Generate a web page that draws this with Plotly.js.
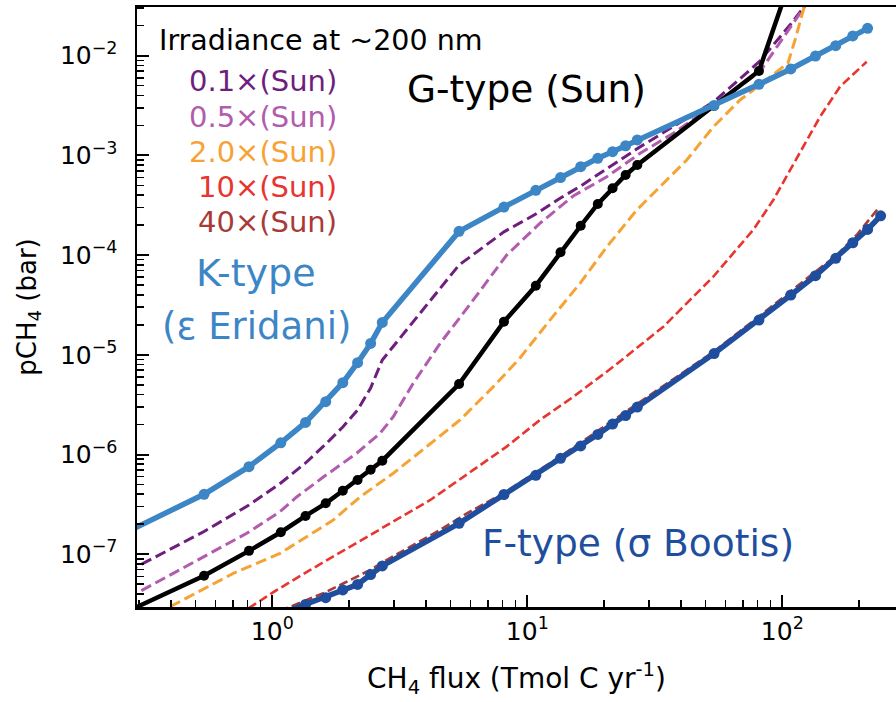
<!DOCTYPE html>
<html><head><meta charset="utf-8">
<script src="https://cdn.plot.ly/plotly-3.0.1.min.js"></script>
<style>html,body{margin:0;padding:0;background:#fff;overflow:hidden}</style>
</head><body><div id="chart" style="width:896px;height:702px"></div>
<script>
// CH4 flux (Tmol C / yr) and pCH4 (bar)
const kFlux = [0.27,0.54,0.81,1.08,1.35,1.62,1.89,2.16,2.43,2.7,5.4,8.1,10.8,13.5,16.2,18.9,21.6,24.3,27,54,81,108,135,162,189,216];
const kPch4 = [1.68e-7,3.99e-7,7.55e-7,1.31e-6,2.10e-6,3.39e-6,5.25e-6,8.33e-6,1.30e-5,2.11e-5,1.73e-4,3.03e-4,4.46e-4,6.00e-4,7.70e-4,9.35e-4,1.09e-3,1.25e-3,1.43e-3,3.17e-3,5.16e-3,7.36e-3,9.93e-3,1.26e-2,1.58e-2,1.88e-2];

const gFlux = [0.27,0.54,0.81,1.08,1.35,1.62,1.89,2.16,2.43,2.7,5.4,8.1,10.8,13.5,16.2,18.9,21.6,24.3,27,54,81,108];
const gPch4 = [2.67e-8,6.08e-8,1.08e-7,1.66e-7,2.42e-7,3.24e-7,4.33e-7,5.55e-7,7.04e-7,8.67e-7,5.09e-6,2.15e-5,4.93e-5,1.07e-4,1.97e-4,3.26e-4,4.68e-4,6.36e-4,8.01e-4,3.13e-3,7.03e-3,5.96e-2];

const fFlux = [1.08,1.35,1.62,1.89,2.16,2.43,2.7,5.4,8.1,10.8,13.5,16.2,18.9,21.6,24.3,27,54,81,108,135,162,189,216,243];
const fPch4 = [2.53e-8,3.13e-8,3.66e-8,4.38e-8,4.97e-8,6.25e-8,7.62e-8,2.04e-7,3.97e-7,6.18e-7,9.16e-7,1.22e-6,1.59e-6,2.02e-6,2.46e-6,2.99e-6,1.03e-5,2.23e-5,3.98e-5,6.21e-5,9.29e-5,1.33e-4,1.81e-4,2.48e-4];

const x01Flux = [0.27,0.54,0.81,1.08,1.35,1.62,1.89,2.16,2.43,2.7,5.4,8.1,10.8,13.5,16.2,18.9,21.6,24.3,27,54,81,108,135];
const x01Pch4 = [6.68e-8,1.69e-7,3.11e-7,5.18e-7,8.22e-7,1.27e-6,1.89e-6,2.79e-6,4.65e-6,8.87e-6,7.96e-5,1.71e-4,2.58e-4,3.74e-4,4.93e-4,6.36e-4,8.01e-4,9.64e-4,1.17e-3,3.47e-3,8.65e-3,2.08e-2,4.36e-2];

const x05Flux = [0.27,0.52,0.794,1.072,1.246,1.585,2.143,2.645,2.98,3.57,4.55,6.14,8.3,11.2,15.15,20.5,27.7,37.4,55.3,81.7,108.9,135.6];
const x05Pch4 = [3.61e-8,8.89e-8,1.62e-7,2.67e-7,3.75e-7,5.94e-7,1.03e-6,1.63e-6,2.39e-6,5.18e-6,1.30e-5,3.55e-5,1.00e-4,2.08e-4,3.92e-4,6.11e-4,1.05e-3,1.67e-3,3.33e-3,6.92e-3,2.03e-2,4.56e-2];

const x2Flux = [0.27,0.422,0.703,1.072,1.735,2.208,2.98,4.03,5.45,7.36,9.36,12.27,16.1,20.5,26.85,32.2,42.2,53.6,68.3,81.7,105.3,112.1,120.9,135.6];
const x2Pch4 = [1.82e-8,3.22e-8,6.43e-8,1.02e-7,2.20e-7,3.75e-7,6.48e-7,1.20e-6,2.22e-6,4.79e-6,9.29e-6,2.23e-5,5.21e-5,1.21e-4,2.83e-4,4.50e-4,8.99e-4,1.93e-3,3.60e-3,5.08e-3,8.45e-3,1.43e-2,2.87e-2,7.25e-2];

const x10Flux = [0.6,0.796,1.043,1.409,2.023,2.902,4.165,6.142,8.3,11.21,15.11,21.75,27.67,34.15,53.6,76.9,92.2,117.3,140.6,168.4,214.3];
const x10Pch4 = [1.76e-8,2.80e-8,4.38e-8,6.95e-8,1.19e-7,2.04e-7,3.50e-7,7.00e-7,1.20e-6,2.22e-6,3.77e-6,7.60e-6,1.25e-5,1.91e-5,6.07e-5,1.79e-4,3.57e-4,1.05e-3,2.44e-3,4.89e-3,8.71e-3];

const x40Flux = [1.069,1.585,1.905,2.423,2.68,4.546,5.8,8.05,13.44,23.8,53.6,79.4,107.2,132.3,163.5,195.8,237.9];
const x40Pch4 = [2.69e-8,4.06e-8,5.11e-8,6.95e-8,8.16e-8,1.75e-7,2.57e-7,4.08e-7,9.51e-7,2.59e-6,1.07e-5,2.32e-5,4.30e-5,6.56e-5,1.00e-4,1.59e-4,2.95e-4];

const xTickVals = [1,10,100];
const xTickText = ['10<sup>0</sup>','10<sup>1</sup>','10<sup>2</sup>'];
const yTickVals = [1e-7,1e-6,1e-5,1e-4,1e-3,1e-2];
const yTickText = ['10<sup>\u22127</sup>','10<sup>\u22126</sup>','10<sup>\u22125</sup>','10<sup>\u22124</sup>','10<sup>\u22123</sup>','10<sup>\u22122</sup>'];

const legendLabels = ['0.1\u00d7(Sun)','0.5\u00d7(Sun)','2.0\u00d7(Sun)','10\u00d7(Sun)','40\u00d7(Sun)'];

const C = {k:'#3d86c6', g:'#000000', f:'#1f4e9e', x01:'#6e1f7e', x05:'#b25cae', x2:'#f6a335', x10:'#e8352f', x40:'#a83b37'};
const legendColors = [C.x01,C.x05,C.x2,C.x10,C.x40];
const legendRows = [81.5,117,152,187,221.5];

function minorVals(lo, hi){ const v=[]; for(let e=lo;e<=hi;e++){ for(let m=2;m<=9;m++) v.push(m*Math.pow(10,e)); } return v; }

const dashT = (x,y,c,w,d)=>({x:x,y:y,type:'scatter',mode:'lines',line:{color:c,width:w,dash:d},hoverinfo:'skip',showlegend:false});
const solidT = (x,y,c,w,ms)=>({x:x,y:y,type:'scatter',mode:'lines+markers',line:{color:c,width:w},marker:{color:c,size:ms},showlegend:false});

const traces = [
  dashT(x01Flux,x01Pch4,C.x01,3,'11px,5px'),
  dashT(x05Flux,x05Pch4,C.x05,3,'11px,5px'),
  dashT(x2Flux,x2Pch4,C.x2,3,'11px,5px'),
  dashT(x10Flux,x10Pch4,C.x10,2.6,'9px,4px'),
  dashT(x40Flux,x40Pch4,C.x40,2.6,'9px,4px'),
  solidT(gFlux,gPch4,C.g,4.5,10),
  solidT(fFlux,fPch4,C.f,5.5,11),
  solidT(kFlux,kPch4,C.k,5.5,11)
];

const L=137, T=7, W=759, H=600;
const px=(p)=>(p-L)/W, py=(p)=>(T+H-p)/H;
const AF='DejaVu Sans';
const ann=(text,x,y,xa,size,color)=>({text:text,xref:'paper',yref:'paper',x:px(x),y:py(y),xanchor:xa,yanchor:'middle',showarrow:false,font:{family:AF,size:size,color:color}});

const annotations = [
  ann('Irradiance at ~200 nm',157,41,'left',28.5,'#000'),
  ann('G-type (Sun)',405,89,'left',37.5,'#000'),
  ann('K-type',256,273,'center',38,C.k),
  ann('(\u03b5 Eridani)',256,326,'center',37,C.k),
  ann('F-type (\u03c3 Bootis)',480,543,'left',37.5,C.f)
].concat(legendLabels.map((s,i)=>ann(s,339,legendRows[i],'right',29,legendColors[i])));

const axisCommon = {type:'log',showgrid:false,zeroline:false,showline:true,linecolor:'#000',linewidth:2.5,
  ticks:'inside',ticklen:12,tickwidth:2,tickcolor:'#000',tickmode:'array',
  tickfont:{family:'DejaVu Sans',size:25,color:'#000'}};

const layout = {
  width:896,height:702,paper_bgcolor:'#fff',plot_bgcolor:'#fff',
  margin:{l:L,t:T,r:0,b:702-T-H},
  xaxis:Object.assign({},axisCommon,{range:[-0.5306,2.4459],tickvals:xTickVals,ticktext:xTickText,mirror:true,ticklabelstandoff:0,
    minor:{tickmode:'array',tickvals:minorVals(-1,2),ticks:'inside',ticklen:7,tickwidth:1.5,tickcolor:'#000',showgrid:false},
    title:{text:'CH<sub>4</sub> flux (Tmol C yr<sup>-1</sup>)',font:{family:'DejaVu Sans',size:28,color:'#000'},standoff:24}}),
  yaxis:Object.assign({},axisCommon,{range:[-7.5296,-1.5115],tickvals:yTickVals,ticktext:yTickText,mirror:false,ticklabelstandoff:12,
    minor:{tickmode:'array',tickvals:minorVals(-8,-2),ticks:'inside',ticklen:7,tickwidth:1.5,tickcolor:'#000',showgrid:false},
    title:{text:'pCH<sub>4</sub> (bar)',font:{family:'DejaVu Sans',size:26,color:'#000'},standoff:16}}),
  annotations:annotations,
  showlegend:false
};

Plotly.newPlot('chart',traces,layout,{displayModeBar:false,staticPlot:true});
</script></body></html>
